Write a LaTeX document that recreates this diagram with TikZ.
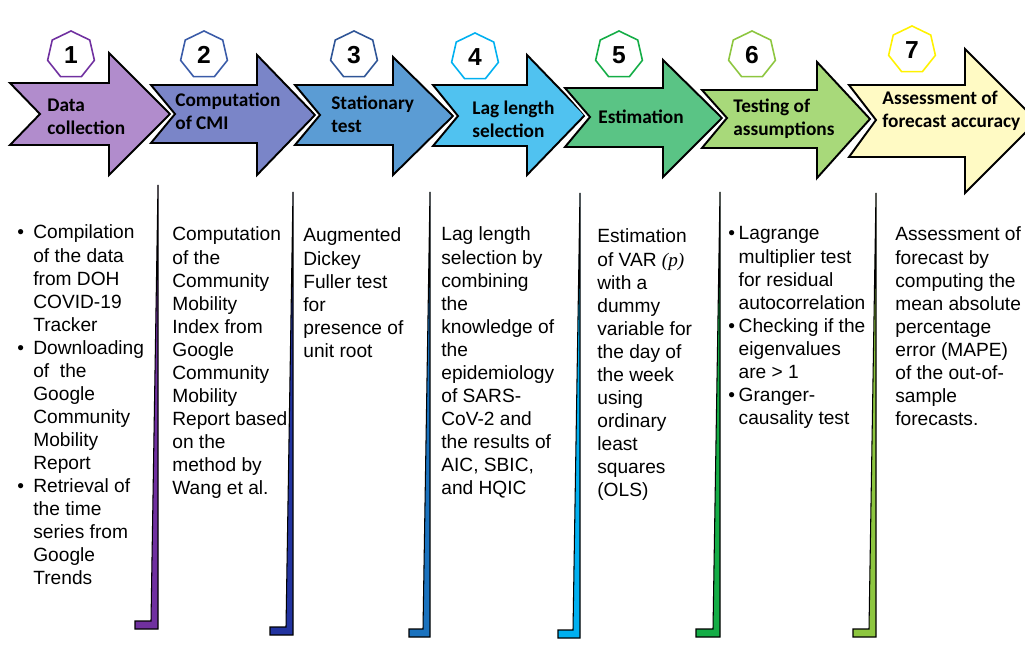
\documentclass[tikz,border=0pt]{standalone}
\usepackage{fontspec}
\setmainfont{Liberation Sans}
\newfontfamily\headfont{Carlito}
\newfontfamily\lagfont{Liberation Serif}
\usepackage{tikz}
\usetikzlibrary{shapes.geometric}

\definecolor{fillA}{HTML}{B18CCC}
\definecolor{fillB}{HTML}{7A85C8}
\definecolor{fillC}{HTML}{5B9CD4}
\definecolor{fillD}{HTML}{50C2F0}
\definecolor{fillE}{HTML}{5AC485}
\definecolor{fillF}{HTML}{A8D97A}
\definecolor{fillG}{HTML}{FFFAC4}
\definecolor{railA}{HTML}{7030A0}
\definecolor{railB}{HTML}{2233A0}
\definecolor{railC}{HTML}{1A72BE}
\definecolor{railD}{HTML}{00B0F0}
\definecolor{railE}{HTML}{14AD46}
\definecolor{railF}{HTML}{8DC63F}
\definecolor{badgeB}{HTML}{3A5BA8}
\definecolor{badgeC}{HTML}{2F5597}

\newcommand{\steplines}[1]{\begin{tabular}[t]{@{}l@{}}#1\end{tabular}}

\begin{document}
\begin{tikzpicture}[
      x=0.02cm, y=-0.02cm,
      stage/.style={draw=black, line width=1.1pt, line join=miter,
        preaction={draw=white, line width=3.2pt}},
      badge/.style={regular polygon, regular polygon sides=7, draw, line width=0.9pt,
        minimum size=0.96cm, inner sep=0pt, fill=white,
        font=\fontsize{14}{14}\selectfont\bfseries},
      title/.style={anchor=base west, inner sep=0pt,
        font=\headfont\fontsize{11}{13}\selectfont\bfseries},
      notes/.style={anchor=base west, inner sep=0pt,
        font=\fontsize{10.9}{13.1}\selectfont},
      rail/.style={draw=black, line width=0.6pt, line join=miter}
    ]
      \useasboundingbox (0,0) rectangle (1025,648);
      \clip (0,0) rectangle (1025,648);

      % stage arrows
      \draw[stage, fill=fillA] (10,83) -- (109,83) -- (109,53) -- (170,114) -- (109,175) -- (109,145) -- (10,145) -- (40,114) -- cycle;
      \draw[stage, fill=fillB] (151,85) -- (257,85) -- (257,55) -- (315,115) -- (257,175) -- (257,143) -- (151,143) -- (175,114) -- cycle;
      \draw[stage, fill=fillC] (295,85) -- (393,85) -- (393,57) -- (453,116) -- (393,175) -- (393,145) -- (295,145) -- (320,115) -- cycle;
      \draw[stage, fill=fillD] (433,85) -- (527,85) -- (527,55) -- (585,115) -- (527,175) -- (527,146) -- (433,146) -- (458,116) -- cycle;
      \draw[stage, fill=fillE] (565,88) -- (663,88) -- (663,60) -- (722,118) -- (663,177) -- (663,147) -- (565,147) -- (590,117) -- cycle;
      \draw[stage, fill=fillF] (702,90) -- (817,90) -- (817,62) -- (870,119) -- (817,178) -- (817,148) -- (702,148) -- (727,118) -- cycle;
      \draw[stage, fill=fillG] (849,85) -- (965,85) -- (965,49) -- (1037,121) -- (965,193) -- (965,157) -- (849,157) -- (876,120) -- cycle;

      \node[title] (t1) at (47,112) {\steplines{Data\\collection}};
      \node[title] (t2) at (175,107) {\steplines{Computation\\of CMI}};
      \node[title] (t3) at (331,110) {\steplines{Stationary\\test}};
      \node[title] (t4) at (472,115) {\steplines{Lag length\\selection}};
      \node[title] (t5) at (598,124) {Estimation};
      \node[title] (t6) at (733,113) {\steplines{Testing of\\assumptions}};
      \node[title] (t7) at (882,105) {\steplines{Assessment of\\forecast accuracy}};

      % numbered badges
      \node[badge, draw=railA] (n1) at (71,55) {1};
      \node[badge, draw=badgeB] (n2) at (204,55) {2};
      \node[badge, draw=badgeC] (n3) at (354,55) {3};
      \node[badge, draw=railD] (n4) at (475,57) {4};
      \node[badge, draw=railE] (n5) at (619,55) {5};
      \node[badge, draw=railF] (n6) at (752,55) {6};
      \node[badge, draw=yellow] (n7) at (912,50) {7};

      % details under each stage
      \node[notes] (d1) at (17,239) {\begin{tabular}[t]{@{}l@{}l@{}}
        \makebox[9.1pt][l]{\textbullet} & Compilation\\
         & of the data\\
         & from DOH\\
         & COVID-19\\
         & Tracker\\
        \makebox[9.1pt][l]{\textbullet} & Downloading\\
         & of~ the\\
         & Google\\
         & Community\\
         & Mobility\\
         & Report\\
        \makebox[9.1pt][l]{\textbullet} & Retrieval of\\
         & the time\\
         & series from\\
         & Google\\
         & Trends
      \end{tabular}};
      \node[notes] (d2) at (172,241) {\steplines{Computation\\of the\\Community\\Mobility\\Index from\\Google\\Community\\Mobility\\Report based\\on the\\method by\\Wang et al.}};
      \node[notes] (d3) at (303,242) {\steplines{Augmented\\Dickey\\Fuller test\\for\\presence of\\unit root}};
      \node[notes] (d4) at (441,241) {\steplines{Lag length\\selection by\\combining\\the\\knowledge of\\the\\epidemiology\\of SARS-\\CoV-2 and\\the results of\\AIC, SBIC,\\and HQIC}};
      \node[notes] (d5) at (597,243) {\steplines{Estimation\\of VAR {\lagfont\itshape (p)}\\with a\\dummy\\variable for\\the day of\\the week\\using\\ordinary\\least\\squares\\(OLS)}};
      \node[notes] (d6) at (728,240) {\begin{tabular}[t]{@{}l@{}l@{}}
        \makebox[5.9pt][l]{\textbullet} & Lagrange\\
         & multiplier test\\
         & for residual\\
         & autocorrelation\\
        \makebox[5.9pt][l]{\textbullet} & Checking if the\\
         & eigenvalues\\
         & are > 1\\
        \makebox[5.9pt][l]{\textbullet} & Granger-\\
         & causality test
      \end{tabular}};
      \node[notes] (d7) at (895,241) {\steplines{Assessment of\\forecast by\\computing the\\mean absolute\\percentage\\error (MAPE)\\of the out-of-\\sample\\forecasts.}};

      % tapered dividers
      \draw[rail, fill=railA] (158,185) -- (158,629) -- (135,629) -- (135,621) -- (151,621) -- cycle;
      \draw[rail, fill=railB] (293,192) -- (293,635) -- (270,635) -- (270,627) -- (286,627) -- cycle;
      \draw[rail, fill=railC] (430,192) -- (430,637) -- (409,637) -- (409,629) -- (423,629) -- cycle;
      \draw[rail, fill=railD] (580,193) -- (580,638) -- (558,638) -- (558,630) -- (573,630) -- cycle;
      \draw[rail, fill=railE] (720,192) -- (720,637) -- (696,637) -- (696,629) -- (713,629) -- cycle;
      \draw[rail, fill=railF] (876,193) -- (876,637) -- (853,637) -- (853,629) -- (869,629) -- cycle;
    \end{tikzpicture}
\end{document}
